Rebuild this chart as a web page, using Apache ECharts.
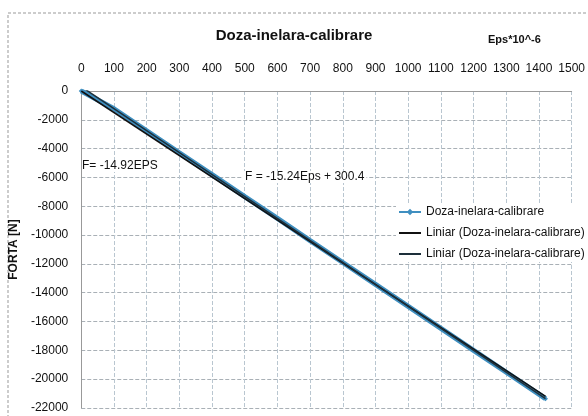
<!DOCTYPE html>
<html>
<head>
<meta charset="utf-8">
<script src="https://cdn.jsdelivr.net/npm/echarts@6/dist/echarts.min.js"></script>
<style>
  html, body { margin: 0; padding: 0; background: #fff; }
  #main { width: 588px; height: 416px; }
</style>
</head>
<body>
<div id="main"></div>
<script>
// date (Eps*10^-6, Forta [N])
var epsData = [0, 100, 200, 300, 400, 500, 600, 700, 800, 900, 1000, 1100, 1200, 1300, 1420];
var fortaData = [0, -1230, -2760, -4290, -5800, -7330, -8840, -10380, -11900, -13420, -14950, -16470, -18000, -19520, -21350];

// capetele liniilor de tendinta
var trend1Eps = [0, 1420];
var trend1F = [0, -21186];
var trend2Eps = [0, 1420];
var trend2F = [300, -21341];

var xTicks = [0, 1500, 100];      // min, max, interval
var yTicks = [-22000, 0, 2000];

var seriesNames = ['Doza-inelara-calibrare', 'Liniar (Doza-inelara-calibrare)', 'Liniar (Doza-inelara-calibrare) '];

function pairs(xs, ys) {
  return xs.map(function (x, i) { return [x, ys[i]]; });
}

var chart = echarts.init(document.getElementById('main'));
var font = '"Liberation Sans", sans-serif';

var option = {
  backgroundColor: '#fff',
  textStyle: { fontFamily: font },
  animation: false,
  title: {
    text: 'Doza-inelara-calibrare',
    left: 'center',
    top: 23,
    textStyle: { fontSize: 15, fontWeight: 'bold', color: '#111', fontFamily: font }
  },
  legend: {
    orient: 'vertical',
    left: 396,
    top: 204,
    itemGap: 9,
    itemWidth: 22,
    itemHeight: 8,
    backgroundColor: '#fff',
    padding: [2, 0, 2, 2],
    textStyle: { fontSize: 12, color: '#111', fontFamily: font },
    data: [
      { name: seriesNames[0] },
      { name: seriesNames[1], itemStyle: { opacity: 0 } },
      { name: seriesNames[2], itemStyle: { opacity: 0 } }
    ]
  },
  grid: {
    left: 77,
    right: 10,
    top: 91,
    bottom: 8
  },
  xAxis: {
    type: 'value',
    position: 'top',
    min: xTicks[0],
    max: xTicks[1],
    interval: xTicks[2],
    axisLine: { show: true, onZero: false, lineStyle: { color: '#999' } },
    axisTick: { show: false },
    axisLabel: { color: '#111', fontSize: 12, margin: 16, fontFamily: font, formatter: function (v) { return String(v); } },
    splitLine: { lineStyle: { color: '#b9c6d0', type: 'dashed' } }
  },
  yAxis: {
    type: 'value',
    min: yTicks[0],
    max: yTicks[1],
    interval: yTicks[2],
    name: 'FORTA [N]',
    nameLocation: 'middle',
    nameGap: 55,
    nameTextStyle: { fontSize: 12, fontWeight: 'bold', color: '#111', fontFamily: font },
    axisLine: { show: true, lineStyle: { color: '#999' } },
    axisTick: { show: false },
    axisLabel: { color: '#111', fontSize: 12, margin: 13, fontFamily: font, formatter: function (v) { return String(v); } },
    splitLine: { lineStyle: { color: '#a9b0b6', type: 'dashed' } }
  },
  graphic: [
    {
      type: 'rect',
      shape: { x: 8, y: 13, width: 600, height: 420 },
      style: { fill: 'none', stroke: '#999', lineWidth: 1, lineDash: [3, 2] },
      silent: true
    },
    {
      type: 'text',
      left: 488, top: 34,
      style: { text: 'Eps*10^-6', fill: '#111', font: 'bold 11px ' + font }
    },
    {
      type: 'text',
      left: 82, top: 160, z: 10,
      style: { text: 'F= -14.92EPS', fill: '#111', font: '12px ' + font, backgroundColor: '#fff' }
    },
    {
      type: 'text',
      left: 243, top: 171, z: 10,
      style: { text: 'F = -15.24Eps + 300.4', fill: '#111', font: '12px ' + font, backgroundColor: '#fff', padding: [0, 2] }
    }
  ],
  series: [
    {
      name: seriesNames[0],
      type: 'line',
      data: pairs(epsData, fortaData),
      symbol: 'diamond',
      symbolSize: 5,
      lineStyle: { color: '#3f8fc0', width: 5 },
      itemStyle: { color: '#3f8fc0' },
      z: 2
    },
    {
      name: seriesNames[1],
      type: 'line',
      data: pairs(trend1Eps, trend1F),
      symbol: 'none',
      lineStyle: { color: '#111', width: 1.5 },
      itemStyle: { color: '#111' },
      z: 3
    },
    {
      name: seriesNames[2],
      type: 'line',
      data: pairs(trend2Eps, trend2F),
      symbol: 'none',
      lineStyle: { color: '#1d2f3a', width: 1.5 },
      itemStyle: { color: '#1d2f3a' },
      z: 3
    }
  ]
};

chart.setOption(option);
</script>
</body>
</html>
